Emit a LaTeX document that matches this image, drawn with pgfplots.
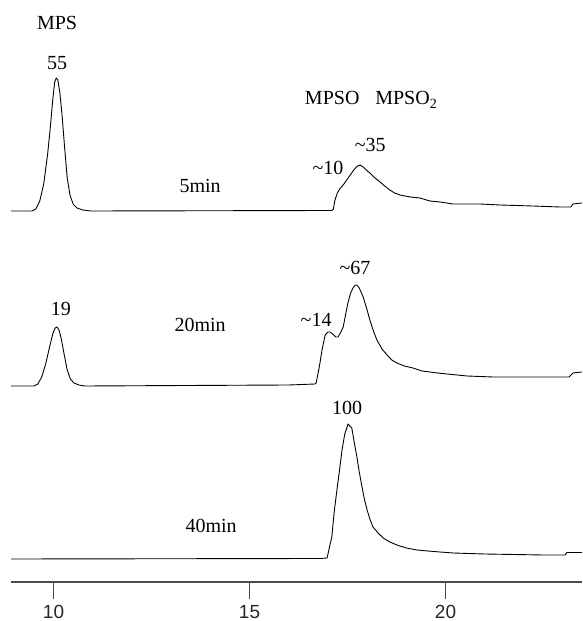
\documentclass[border=0pt]{standalone}
\usepackage{fontspec}
\setmainfont{Liberation Serif}
\newfontfamily\arialfont{Liberation Sans}
\usepackage{pgfplots}
\pgfplotsset{compat=1.18}
\pgfplotstableread{
x y
8.92 371
9.45 371
9.55 373
9.65 381
9.75 398
9.85 428
9.92 455
9.98 482
10.03 500
10.07 504
10.11 502
10.16 490
10.22 466
10.28 436
10.35 404
10.42 387
10.50 378
10.60 374
10.75 372
10.95 371
17.10 371.5
17.14 373
17.18 382
17.24 389
17.30 393
17.39 397
17.48 402
17.57 407
17.66 412
17.74 415.5
17.82 417
17.90 415
17.98 412
18.07 409
18.20 404
18.33 400
18.45 396
18.58 392
18.70 389
18.84 387
19.10 385
19.35 384
19.60 381
19.86 380
20.19 378
20.50 378
20.88 378
21.39 377
22.23 376
22.92 375
23.20 375
23.25 378
23.48 379
}\tracefive
\pgfplotstableread{
x y
8.92 196
9.50 196
9.60 198
9.70 205
9.80 218
9.90 235
9.98 248
10.04 254
10.09 255
10.14 252
10.20 243
10.27 228
10.35 212
10.43 203
10.52 199
10.65 197
10.80 196
16.00 197
16.67 198
16.70 199
16.78 215
16.85 232
16.93 247
17.00 250
17.05 250
17.12 248
17.20 245
17.26 245
17.33 250
17.39 255
17.45 267
17.51 279
17.58 289
17.64 294
17.70 297
17.74 297
17.80 294
17.90 285
18.00 272
18.07 262
18.16 251
18.25 242
18.38 233
18.51 227
18.63 222
18.76 219
18.95 216
19.17 214
19.40 211
19.60 210
19.80 209
20.04 208
20.30 207
20.55 206
21.21 205
21.72 205
23.15 205
23.25 209
23.48 210
}\tracetwenty
\pgfplotstableread{
x y
8.92 23
16.80 23.5
16.98 24
17.04 35
17.10 45
17.16 70
17.23 92
17.30 113
17.36 132
17.43 148
17.49 155
17.51 158
17.56 156
17.61 154
17.67 140
17.74 125
17.80 110
17.87 95
17.93 83
18.00 72
18.07 63
18.15 55
18.28 49
18.41 44
18.58 40
18.76 37
19.00 34
19.27 32
19.55 31
19.86 30
20.20 29
20.60 28.5
21.00 28
22.50 27
23.05 27
23.10 29.5
23.48 29.5
}\tracefourty
\begin{document}
\fontsize{20}{24}\selectfont
\begin{tikzpicture}
\begin{axis}[
  x=39.2pt, y=1pt,
  xmin=8.92, xmax=23.48, ymin=0, ymax=582,
  axis x line=bottom, axis y line=none,
  axis line style={-, line width=2pt, color=black!70},
  xtick={10,15,20}, xticklabels={10,15,20},
  minor xtick={},
  tick align=outside, major tick length=17pt,
  xtick style={line width=1.3pt, color=black!70},
  xticklabel style={font=\arialfont\fontsize{19}{19}\selectfont, text=black!85, inner sep=0pt, anchor=north, yshift=-6pt},
  clip=false,
]
\addplot[black, line width=0.9pt, line join=round] table {\tracefive};
\addplot[black, line width=0.9pt, line join=round] table {\tracetwenty};
\addplot[black, line width=0.9pt, line join=round] table {\tracefourty};
\path (axis cs:8.635,-39) (axis cs:23.48,582);
\node[anchor=base] at (axis cs:10.09,552) {MPS};
\node[anchor=base] at (axis cs:10.09,512) {55};
\node[anchor=base] at (axis cs:17.11,477) {MPSO};
\node[anchor=base] at (axis cs:19.0,477) {MPSO\textsubscript{2}};
\node[anchor=base] at (axis cs:17.0,407) {\textasciitilde10};
\node[anchor=base] at (axis cs:18.08,430) {\textasciitilde35};
\node[anchor=base] at (axis cs:13.74,389) {5min};
\node[anchor=base] at (axis cs:10.19,266) {19};
\node[anchor=base] at (axis cs:13.74,250) {20min};
\node[anchor=base] at (axis cs:16.70,255) {\textasciitilde14};
\node[anchor=base] at (axis cs:17.69,307) {\textasciitilde67};
\node[anchor=base] at (axis cs:17.49,167) {100};
\node[anchor=base] at (axis cs:14.02,49) {40min};
\end{axis}
\end{tikzpicture}
\end{document}
